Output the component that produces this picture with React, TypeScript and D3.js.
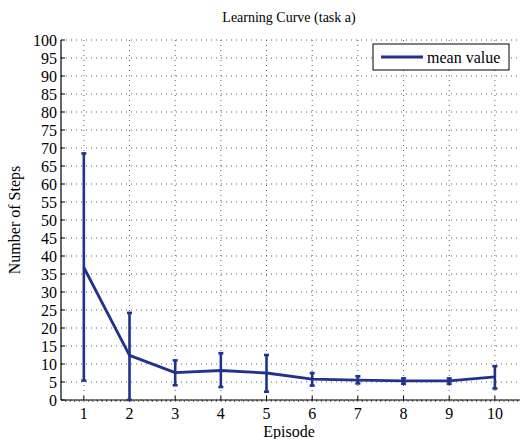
import { scaleLinear, line, range } from "d3";

const episodes = [1, 2, 3, 4, 5, 6, 7, 8, 9, 10];
const meanSteps = [36.8, 12.4, 7.6, 8.2, 7.5, 5.8, 5.5, 5.3, 5.3, 6.4];
const lowerSteps = [5.4, 0, 4.1, 3.6, 2.3, 4.0, 4.6, 4.5, 4.5, 3.2];
const upperSteps = [68.5, 24.2, 11.0, 13.0, 12.5, 7.5, 6.6, 6.0, 6.0, 9.4];
const yTicks = range(0, 101, 5);

const BLUE = "#20318e";
const fontStyle = { fontFamily: "Liberation Serif, Times New Roman, DejaVu Serif, serif" };

const App = () => {
  const width = 520;
  const height = 439;
  const margin = { top: 40, right: 0, bottom: 39, left: 61 };

  const plotW = width - margin.left - margin.right;
  const plotH = height - margin.top - margin.bottom;

  const x = scaleLinear().domain([0.5, 10.55]).range([0, plotW]);
  const y = scaleLinear().domain([0, 100]).range([plotH, 0]);

  const pts = episodes.map((e, i) => ({ e, m: meanSteps[i] }));
  const path = line<{ e: number; m: number }>()
    .x(d => x(d.e))
    .y(d => y(d.m))(pts) || "";

  const minor = range(0.6, 10.55, 0.1);

  return (
    <svg width={width} height={height} style={{ position: "absolute", left: 0, top: 0, background: "#fff" }}>
      <rect width={width} height={height} fill="#fff" />
      <text x={289} y={22} textAnchor="middle" style={fontStyle} fontSize={14}>
        Learning Curve (task a)
      </text>
      <g transform={`translate(${margin.left},${margin.top})`}>
        {/* grid */}
        {yTicks.map(t => (
          <line key={"gy" + t} x1={0} x2={plotW} y1={y(t)} y2={y(t)} stroke="#333" strokeWidth={0.8} strokeDasharray="1,4" />
        ))}
        {episodes.map(e => (
          <line key={"gx" + e} x1={x(e)} x2={x(e)} y1={0} y2={plotH} stroke="#333" strokeWidth={0.8} strokeDasharray="1,4" />
        ))}

        {/* axes */}
        <line x1={0} x2={0} y1={0} y2={plotH} stroke="#000" strokeWidth={1.2} />
        <line x1={0} x2={plotW} y1={plotH} y2={plotH} stroke="#000" strokeWidth={1.2} />
        {yTicks.map(t => (
          <g key={"ty" + t}>
            <line x1={0} x2={4} y1={y(t)} y2={y(t)} stroke="#000" />
            <text x={-4} y={y(t)} dy="0.35em" textAnchor="end" style={fontStyle} fontSize={16}>
              {t}
            </text>
          </g>
        ))}
        {minor.map((m, i) => (
          <line key={"mx" + i} x1={x(m)} x2={x(m)} y1={plotH} y2={plotH + 2} stroke="#000" strokeWidth={0.6} />
        ))}
        {episodes.map(e => (
          <g key={"tx" + e}>
            <line x1={x(e)} x2={x(e)} y1={plotH} y2={plotH - 4} stroke="#000" />
            <text x={x(e)} y={plotH + 19} textAnchor="middle" style={fontStyle} fontSize={16}>
              {e}
            </text>
          </g>
        ))}

        {/* error bars */}
        {episodes.map((e, i) => (
          <g key={"eb" + e} stroke={BLUE} strokeWidth={2.6}>
            <line x1={x(e)} x2={x(e)} y1={y(lowerSteps[i])} y2={y(upperSteps[i])} />
            <line x1={x(e) - 2.5} x2={x(e) + 2.5} y1={y(lowerSteps[i])} y2={y(lowerSteps[i])} />
            <line x1={x(e) - 2.5} x2={x(e) + 2.5} y1={y(upperSteps[i])} y2={y(upperSteps[i])} />
          </g>
        ))}
        <path d={path} fill="none" stroke={BLUE} strokeWidth={2.8} strokeLinejoin="round" />

        {/* legend */}
        <g transform={`translate(${373 - margin.left},${44 - margin.top})`}>
          <rect width={136} height={26} fill="#fff" stroke="#000" strokeWidth={1} />
          <line x1={8} x2={50} y1={13} y2={13} stroke={BLUE} strokeWidth={2.8} />
          <text x={54} y={13} dy="0.35em" style={fontStyle} fontSize={16}>
            mean value
          </text>
        </g>
      </g>
      <text x={289} y={437} textAnchor="middle" style={fontStyle} fontSize={16}>
        Episode
      </text>
      <text transform="translate(20,220) rotate(-90)" textAnchor="middle" style={fontStyle} fontSize={16}>
        Number of Steps
      </text>
    </svg>
  );
};

export default App;
